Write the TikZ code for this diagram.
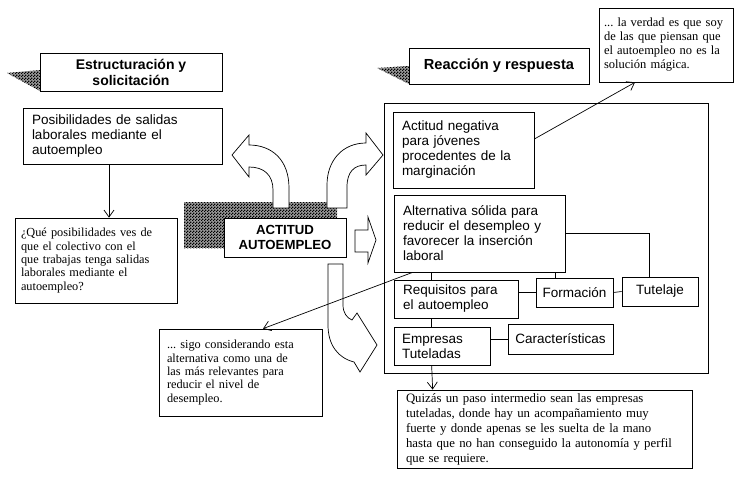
\documentclass[tikz,border=0pt]{standalone}
\usepackage{fontspec}
\setmainfont{Liberation Serif}
\setsansfont{Liberation Sans}
\usetikzlibrary{arrows.meta,patterns}
\frenchspacing

\pgfdeclarepatternformonly{finecheck}{\pgfpointorigin}{\pgfqpoint{3pt}{3pt}}{\pgfqpoint{3pt}{3pt}}{%
  \pgfpathrectangle{\pgfpointorigin}{\pgfqpoint{1.5pt}{1.5pt}}%
  \pgfpathrectangle{\pgfqpoint{1.5pt}{1.5pt}}{\pgfqpoint{1.5pt}{1.5pt}}%
  \pgfusepath{fill}}

\tikzset{
  sbox/.style={draw, fill=white, align=left, inner xsep=9pt, inner ysep=2pt,
    font=\sffamily\fontsize{13.5}{15}\selectfont},
  qbox/.style={draw, fill=white, align=left, inner xsep=8pt, inner ysep=2pt,
    font=\fontsize{12.3}{13.4}\selectfont},
  tbox/.style={draw, fill=white, align=center,
    font=\sffamily\bfseries\fontsize{14}{16}\selectfont},
  shadow/.style={fill=black!40, postaction={pattern=finecheck, pattern color=black}},
  barrow/.style={draw, fill=white},
  conn/.style={-{Straight Barb[length=7pt,width=10pt]}},
}

\begin{document}
\begin{tikzpicture}[x=1pt,y=-1pt,line width=0.7pt]
\useasboundingbox (0,0) rectangle (734,479);
% shadows
\fill[shadow] (7,73) -- (40,70) -- (40,91) -- cycle;
\fill[shadow] (377,68) -- (409,66) -- (409,84) -- cycle;
\fill[shadow] (184,202) rectangle (337,248);
% headings
\node[tbox, minimum width=182, minimum height=38] (est) at (131,72) {Estructuración y\\solicitación};
\node[tbox, font=\sffamily\bfseries\fontsize{14.6}{16}\selectfont, minimum width=180, minimum height=36] (rea) at (499,66) {Reacción y respuesta};
% block arrows
\draw[barrow] (289,208) -- (289,188) .. controls (289,160) and (272,145) .. (249,145) -- (249,135) -- (232,155) -- (249,177) -- (249,167) .. controls (264,167) and (273,175) .. (273,190) -- (273,208) -- cycle;
\draw[barrow] (327,208) -- (327,185) .. controls (327,160) and (343,143) .. (366,143) -- (366,133) -- (383,155) -- (366,175) -- (366,165) .. controls (354,165) and (347,172) .. (347,187) -- (347,208) -- cycle;
\draw[barrow] (328,264) -- (343,264) -- (343,305) .. controls (343,313) and (347,318) .. (352,320) -- (357,313) -- (377,345) -- (360,372) -- (354,362) .. controls (338,358) and (328,345) .. (328,325) -- cycle;
\draw[barrow] (355,230) -- (368,230) -- (368,217) -- (376,240) -- (368,263) -- (368,252) -- (355,252) -- cycle;
% left column
\node[sbox, minimum width=199, minimum height=56, text width=181] (pos) at (122.5,136) {Posibilidades de salidas\\laborales mediante el\\autoempleo};
\node[qbox, minimum width=162, minimum height=85, text width=150, inner xsep=6pt] (preg) at (96,260.5) {¿Qué posibilidades ves de\\que el colectivo con el\\que trabajas tenga salidas\\laborales mediante el\\autoempleo?};
\node[tbox, font=\sffamily\bfseries\fontsize{13.2}{15}\selectfont, minimum width=122, minimum height=39] (act) at (285,237.5) {ACTITUD\\AUTOEMPLEO};
% right side
\node[draw, minimum width=324, minimum height=270] (cont) at (546,238) {};
\node[sbox, minimum width=141, minimum height=76, text width=123] (neg) at (463.5,150) {Actitud negativa\\para jóvenes\\procedentes de la\\marginación};
\node[sbox, minimum width=171, minimum height=77, text width=153] (alt) at (479.5,233.5) {Alternativa sólida para\\reducir el desempleo y\\favorecer la inserción\\laboral};
\node[sbox, minimum width=124, minimum height=38, text width=106] (req) at (456,299) {Requisitos para\\el autoempleo};
\node[sbox, minimum width=96, minimum height=38, text width=80, inner xsep=8pt] (emp) at (442,346) {Empresas\\Tuteladas};
\node[sbox, minimum width=77, minimum height=29, inner xsep=5pt, align=center] (form) at (574.5,292.5) {Formación};
\node[sbox, minimum width=76, minimum height=29, inner xsep=5pt, align=center] (tut) at (660,291.5) {Tutelaje};
\node[sbox, minimum width=105, minimum height=30, inner xsep=5pt, align=center] (car) at (560.5,339) {Características};
% quotes
\node[qbox, font=\fontsize{12.5}{14}\selectfont, inner xsep=5pt, minimum width=134, minimum height=74, text width=124] (verdad) at (666,45) {... la verdad es que soy\\de las que piensan que\\el autoempleo no es la\\solución mágica.};
\node[qbox, minimum width=163, minimum height=87, text width=147] (sigo) at (240.5,372.5) {... sigo considerando esta\\alternativa como una de\\las más relevantes para\\reducir el nivel de\\desempleo.};
\node[qbox, font=\fontsize{12.8}{15}\selectfont, inner xsep=9pt, minimum width=295, minimum height=78, text width=277] (quiz) at (544.5,429) {Quizás un paso intermedio sean las empresas\\tuteladas, donde hay un acompañamiento muy\\fuerte y donde apenas se les suelta de la mano\\hasta que no han conseguido la autonomía y perfil\\que se requiere.};
% connectors
\draw[conn] ([xshift=-13.5pt]pos.south) -- ([xshift=13pt]preg.north);
\draw[conn] ([yshift=11pt]neg.east) -- ([xshift=-31pt]verdad.south);
\draw[conn] ([xshift=19pt]alt.south west) -- ([xshift=22.5pt]sigo.north);
\draw ([xshift=38pt]alt.south west) -- ([xshift=38pt]req.north west);
\draw ([xshift=38pt]req.south west) -- ([xshift=38pt]emp.north west);
\draw[conn] ([xshift=38pt]emp.south west) -- ([xshift=36pt]quiz.north west);
\draw ([xshift=-10pt]alt.south east) -- ([xshift=-10pt]alt.south east |- form.north);
\draw (form.west -| req.east) -- (form.west);
\draw (form.east) -- (tut.west);
\draw (alt.east) -| ([xshift=-11pt]tut.north);
\draw (car.west -| emp.east) -- (car.west);
\end{tikzpicture}
\end{document}
